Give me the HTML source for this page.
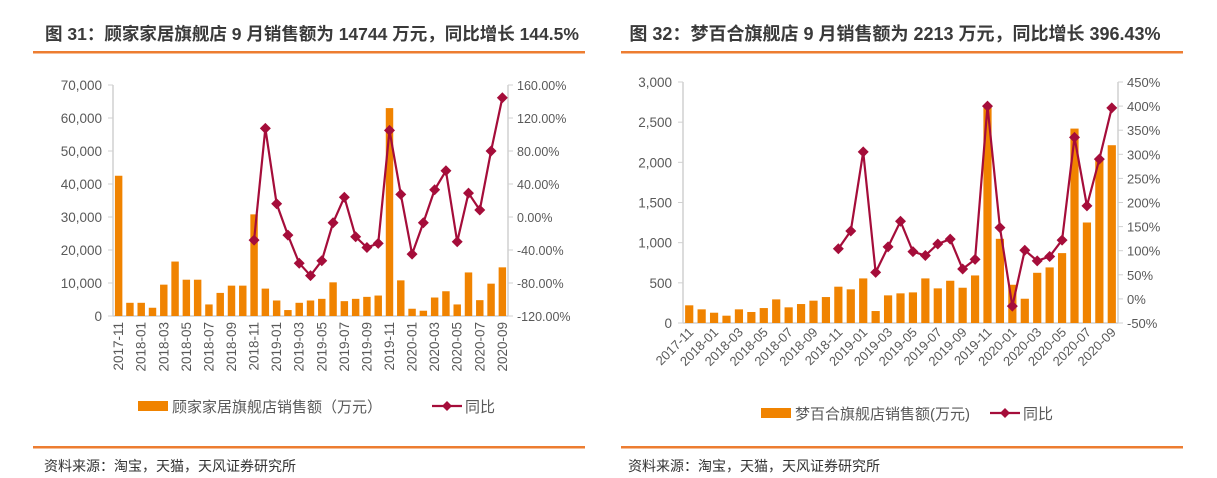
<!DOCTYPE html>
<html><head><meta charset="utf-8">
<style>
body{margin:0;background:#fff;width:1217px;height:478px;overflow:hidden;font-family:"Liberation Sans","Noto Sans CJK SC",sans-serif;}
svg{position:absolute;left:0;top:0}
</style></head>
<body>
<svg id="svg" width="1217" height="478">
<g>
<text x="312" y="40" text-anchor="middle" font-size="17.5" font-weight="bold" fill="#3a3a3a" font-family="Liberation Sans,Noto Sans CJK SC,sans-serif">图 31：顾家家居旗舰店 9 月销售额为 14744 万元，同比增长 144.5%</text>
<rect x="33" y="51" width="552" height="2.5" fill="#ED7D31"/>
</g>
<g>
<text x="895" y="40" text-anchor="middle" font-size="18" font-weight="bold" fill="#3a3a3a" font-family="Liberation Sans,Noto Sans CJK SC,sans-serif">图 32：梦百合旗舰店 9 月销售额为 2213 万元，同比增长 396.43%</text>
<rect x="621" y="51" width="562" height="2.5" fill="#ED7D31"/>
</g>
<rect x="33" y="446" width="552" height="2.5" fill="#ED7D31"/>
<rect x="621" y="446" width="562" height="2.5" fill="#ED7D31"/>
<text x="44" y="471" font-size="14" fill="#333">资料来源：淘宝，天猫，天风证券研究所</text>
<text x="628" y="471" font-size="14" fill="#333">资料来源：淘宝，天猫，天风证券研究所</text>
<g id="left"></g>
<g id="right"></g>
</svg>
<script>
const months=["2017-11","2017-12","2018-01","2018-02","2018-03","2018-04","2018-05","2018-06","2018-07","2018-08","2018-09","2018-10","2018-11","2018-12","2019-01","2019-02","2019-03","2019-04","2019-05","2019-06","2019-07","2019-08","2019-09","2019-10","2019-11","2019-12","2020-01","2020-02","2020-03","2020-04","2020-05","2020-06","2020-07","2020-08","2020-09"];
const kukaSales=[42500,4000,4000,2500,9500,16500,11000,11000,3500,7000,9200,9200,30800,8300,4700,1800,4000,4700,5200,10200,4500,5200,5800,6200,63000,10800,2200,1600,5600,7500,3500,13200,4800,9800,14744];
const kukaYoY=[null,null,null,null,null,null,null,null,null,null,null,null,-28,107.5,16,-22,-56,-71,-53,-7,24,-24,-37,-32,105,27.5,-45,-7,33,56,-30,29,8.5,80,144.5];
const kukaLeftTicks=[0,10000,20000,30000,40000,50000,60000,70000];
const kukaRightTicks=[-120,-80,-40,0,40,80,120,160];
const mlilySales=[220,170,128,91,170,137,186,294,195,236,278,323,452,419,555,149,344,369,381,555,431,526,439,592,2685,1048,476,302,625,692,870,2420,1251,2038,2213];
const mlilyYoY=[null,null,null,null,null,null,null,null,null,null,null,null,104,141,305,55,108,161,98,90,114,124,62,82,400,148,-15,101,79,88,122,335,193,290,396.43];
const mlilyLeftTicks=[0,500,1000,1500,2000,2500,3000];
const mlilyRightTicks=[-50,0,50,100,150,200,250,300,350,400,450];

const NS="http://www.w3.org/2000/svg";
function el(p,tag,attrs,txt){const e=document.createElementNS(NS,tag);for(const k in attrs)e.setAttribute(k,attrs[k]);if(txt!=null)e.textContent=txt;p.appendChild(e);return e;}
const fmt=v=>v.toLocaleString('en-US');

function draw(g,cfg){
  const {x0,x1,y0,y1,lmin,lmax,rmin,rmax,sales,yoy,lt,rt,rfmt,rot}=cfg;
  const n=sales.length,bw=(x1-x0)/n;
  const xs=i=>x0+bw*(i+0.5);
  const ly=v=>y0-(v-lmin)/(lmax-lmin)*(y0-y1);
  const ry=v=>y0-(v-rmin)/(rmax-rmin)*(y0-y1);
  let a=el(g,'line',{x1:x0,y1:y1,x2:x0,y2:y0,stroke:'#d0d0d0','stroke-width':1.5});
  
  a=el(g,'line',{x1:x1,y1:y1,x2:x1,y2:y0,stroke:'#d0d0d0','stroke-width':1.5});
  
  a=el(g,'line',{x1:x0,y1:y0,x2:x1,y2:y0,stroke:'#d0d0d0','stroke-width':1.5});
  
  lt.forEach(v=>{const t=el(g,'text',{x:x0-11,y:ly(v)+5,'text-anchor':'end','font-size':13.5,fill:'#595959'},fmt(v));
    
    el(g,'line',{x1:x0-5,x2:x0,y1:ly(v),y2:ly(v),stroke:'#d0d0d0'});});
  rt.forEach(v=>{const t=el(g,'text',{x:x1+9,y:ry(v)+5,'font-size':cfg.rfs,fill:'#595959'},rfmt(v));
    
    el(g,'line',{x1:x1,x2:x1+5,y1:ry(v),y2:ry(v),stroke:'#d0d0d0'});});
  sales.forEach((v,i)=>{const r=el(g,'rect',{x:xs(i)-bw*0.33,y:ly(v),width:bw*0.66,height:y0-ly(v),fill:'#F08300'});
    });
  months.forEach((m,i)=>{if(i%2)return;
    let t;
    if(rot===-90){t=el(g,'text',{x:0,y:0,'text-anchor':'end','font-size':13.5,fill:'#595959',transform:`translate(${xs(i)+4.5},${y0+6}) rotate(-90)`},m);}
    else{t=el(g,'text',{x:0,y:0,'text-anchor':'end','font-size':13,fill:'#595959',transform:`translate(${xs(i)+5},${y0+10}) rotate(-45)`},m);}
    });
  let d='';yoy.forEach((v,i)=>{if(v==null)return;d+=(d?'L':'M')+xs(i)+','+ry(v);});
  const p=el(g,'path',{d:d,fill:'none',stroke:'#A50D3A','stroke-width':2.2});
  
  yoy.forEach((v,i)=>{if(v==null)return;const cx=xs(i),cy=ry(v);
    const m=el(g,'path',{d:`M${cx},${cy-5.5}L${cx+5.5},${cy}L${cx},${cy+5.5}L${cx-5.5},${cy}Z`,fill:'#A50D3A'});
    });
}
draw(document.getElementById('left'),{x0:113,x1:508,y0:316,y1:85,lmin:0,lmax:70000,rmin:-120,rmax:160,sales:kukaSales,yoy:kukaYoY,lt:kukaLeftTicks,rt:kukaRightTicks,rfmt:v=>v.toFixed(2)+'%',rot:-90,rfs:12.5});
draw(document.getElementById('right'),{x0:683,x1:1118,y0:323,y1:82,lmin:0,lmax:3000,rmin:-50,rmax:450,sales:mlilySales,yoy:mlilyYoY,lt:mlilyLeftTicks,rt:mlilyRightTicks,rfmt:v=>v+'%',rot:-45,rfs:13});

function legend(g,x,y,label,lx){
  let r=el(g,'rect',{x:x,y:y-5,width:30,height:10,fill:'#F08300'});
  
  let t=el(g,'text',{x:x+34,y:y+6,'font-size':15,fill:'#595959'},label);
  
  let l=el(g,'line',{x1:lx,x2:lx+30,y1:y,y2:y,stroke:'#A50D3A','stroke-width':2.2});
  
  el(g,'path',{d:`M${lx+15},${y-5}L${lx+20},${y}L${lx+15},${y+5}L${lx+10},${y}Z`,fill:'#A50D3A'});
  t=el(g,'text',{x:lx+33,y:y+6,'font-size':15,fill:'#595959'},'同比');
  
}
legend(document.getElementById('left'),138,406,'顾家家居旗舰店销售额（万元）',432);
legend(document.getElementById('right'),761,413,'梦百合旗舰店销售额(万元)',990);
</script>
</body></html>
